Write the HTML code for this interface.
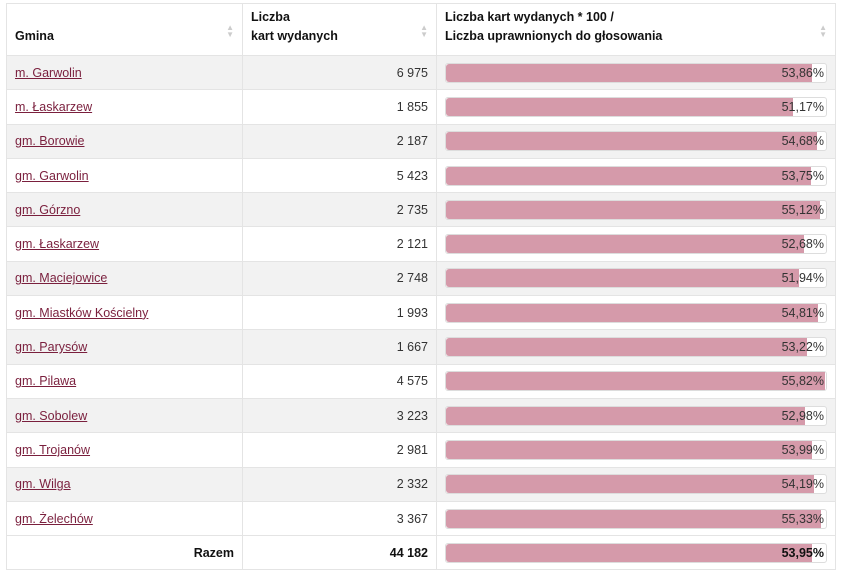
<!DOCTYPE html>
<html><head><meta charset="utf-8"><style>
body{margin:0;background:#fff;font-family:"Liberation Sans",sans-serif;font-size:12.5px;color:#333;}
table{position:absolute;left:6px;top:3px;width:830px;border-collapse:collapse;border:1px solid #e4e4e4;}
th,td{border:1px solid #e4e4e4;padding:0 8px;}
th{height:42px;text-align:left;font-weight:bold;color:#111;vertical-align:bottom;padding-top:0;padding-bottom:9px;line-height:19px;position:relative;font-size:12.5px}
th .s{position:absolute;right:8px;top:20px;color:#ccc;font-size:8px;line-height:7px}
td{height:33.3px;}
tr.o td{background:#f2f2f2;}
td a{color:#7a1f3d;text-decoration:underline;}
td.n{text-align:right;}
.bar{position:relative;height:18px;border:1px solid #ddd;border-radius:3px;background:#fff;margin-right:0}
.bar i{position:absolute;left:0;top:0;bottom:0;background:#d59aaa;border-radius:3px 0 0 3px}
.bar span{position:absolute;right:2px;top:2px;color:#333}
</style></head><body>
<table>
<tr><th style="width:219px">Gmina<span class="s">▲<br>▼</span></th><th style="width:177px">Liczba<br>kart wydanych<span class="s">▲<br>▼</span></th><th>Liczba kart wydanych * 100 /<br>Liczba uprawnionych do głosowania<span class="s">▲<br>▼</span></th></tr>
<tr class="o"><td><a>m. Garwolin</a></td><td class="n">6 975</td><td><div class="bar"><i style="width:96.2%"></i><span>53,86%</span></div></td></tr>
<tr><td><a>m. Łaskarzew</a></td><td class="n">1 855</td><td><div class="bar"><i style="width:91.4%"></i><span>51,17%</span></div></td></tr>
<tr class="o"><td><a>gm. Borowie</a></td><td class="n">2 187</td><td><div class="bar"><i style="width:97.6%"></i><span>54,68%</span></div></td></tr>
<tr><td><a>gm. Garwolin</a></td><td class="n">5 423</td><td><div class="bar"><i style="width:96%"></i><span>53,75%</span></div></td></tr>
<tr class="o"><td><a>gm. Górzno</a></td><td class="n">2 735</td><td><div class="bar"><i style="width:98.4%"></i><span>55,12%</span></div></td></tr>
<tr><td><a>gm. Łaskarzew</a></td><td class="n">2 121</td><td><div class="bar"><i style="width:94.1%"></i><span>52,68%</span></div></td></tr>
<tr class="o"><td><a>gm. Maciejowice</a></td><td class="n">2 748</td><td><div class="bar"><i style="width:92.8%"></i><span>51,94%</span></div></td></tr>
<tr><td><a>gm. Miastków Kościelny</a></td><td class="n">1 993</td><td><div class="bar"><i style="width:97.9%"></i><span>54,81%</span></div></td></tr>
<tr class="o"><td><a>gm. Parysów</a></td><td class="n">1 667</td><td><div class="bar"><i style="width:95%"></i><span>53,22%</span></div></td></tr>
<tr><td><a>gm. Pilawa</a></td><td class="n">4 575</td><td><div class="bar"><i style="width:99.7%"></i><span>55,82%</span></div></td></tr>
<tr class="o"><td><a>gm. Sobolew</a></td><td class="n">3 223</td><td><div class="bar"><i style="width:94.6%"></i><span>52,98%</span></div></td></tr>
<tr><td><a>gm. Trojanów</a></td><td class="n">2 981</td><td><div class="bar"><i style="width:96.4%"></i><span>53,99%</span></div></td></tr>
<tr class="o"><td><a>gm. Wilga</a></td><td class="n">2 332</td><td><div class="bar"><i style="width:96.8%"></i><span>54,19%</span></div></td></tr>
<tr><td><a>gm. Żelechów</a></td><td class="n">3 367</td><td><div class="bar"><i style="width:98.8%"></i><span>55,33%</span></div></td></tr>
<tr><td class="n"><b style="color:#111">Razem</b></td><td class="n"><b style="color:#111">44 182</b></td><td><div class="bar"><i style="width:96.3%"></i><span><b style="color:#111">53,95%</b></span></div></td></tr>
</table>
</body></html>
